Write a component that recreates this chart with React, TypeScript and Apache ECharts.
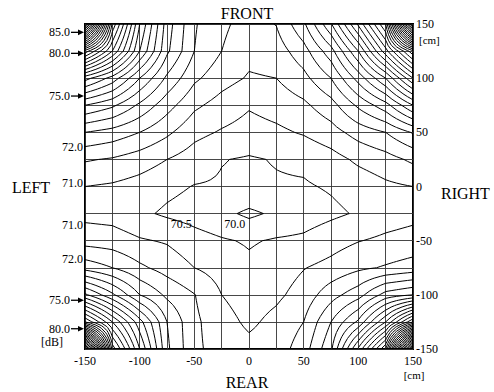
import React, { useEffect, useRef } from 'react';
import * as echarts from 'echarts';

// measurement grid (cm)
const xPositions = [-150, -125, -100, -75, -50, -25, 0, 25, 50, 75, 100, 125, 150];
const yPositions = [150, 125, 100, 75, 50, 25, 0, -25, -50, -75, -100, -125, -150];

// sound pressure level [dB] read at each grid node, rows from FRONT (150) to REAR (-150)
const rowY150 = [88, 79.4, 76.0, 73.75, 72.55, 72.1, 71.8, 72.02, 72.9, 74.45, 76.6, 79.0, 88];
const rowY125 = [80.3, 78.0, 75.5, 73.6, 72.5, 72.0, 71.65, 71.75, 72.3, 73.3, 75.0, 77.3, 79.9];
const rowY100 = [76.2, 75.3, 74.0, 72.9, 72.1, 71.7, 71.45, 71.5, 71.85, 72.5, 73.7, 75.0, 77.0];
const rowY75 = [74.0, 73.6, 72.9, 72.2, 71.6, 71.3, 71.05, 71.2, 71.4, 71.8, 72.6, 73.3, 74.5];
const rowY50 = [72.5, 72.3, 72.0, 71.6, 71.15, 70.95, 70.8, 70.9, 71.05, 71.3, 71.7, 72.0, 72.55];
const rowY25 = [71.55, 71.45, 71.25, 71.0, 70.75, 70.52, 70.45, 70.53, 70.6, 70.8, 71.1, 71.3, 71.6];
const rowY0 = [71.0, 70.93, 70.8, 70.62, 70.48, 70.45, 70.42, 70.45, 70.45, 70.55, 70.7, 70.9, 71.0];
const rowYm25 = [70.85, 70.8, 70.6, 70.42, 70.3, 70.13, 69.9, 70.09, 70.25, 70.4, 70.55, 70.75, 70.85];
const rowYm50 = [71.3, 71.25, 71.05, 70.95, 70.7, 70.55, 70.45, 70.55, 70.6, 70.8, 70.98, 71.1, 71.2];
const rowYm75 = [72.3, 72.0, 71.6, 71.3, 71.0, 70.8, 70.6, 70.75, 70.98, 71.15, 71.4, 71.55, 71.7];
const rowYm100 = [74.6, 73.6, 72.5, 71.9, 71.52, 71.0, 70.75, 70.9, 71.2, 71.8, 72.3, 73.2, 73.5];
const rowYm125 = [78.0, 76.0, 74.2, 72.5, 71.6, 71.2, 70.9, 71.15, 71.5, 72.5, 73.6, 75.5, 78.0];
const rowYm150 = [88, 77.8, 75.0, 72.6, 71.6, 71.3, 71.15, 71.25, 71.75, 72.9, 75.6, 78.5, 88];

const contourLevels = [
  70.0, 70.5, 71.0, 71.5, 72.0, 72.5, 73.0, 73.5, 74.0, 74.5, 75.0, 75.5,
  76.0, 76.5, 77.0, 77.5, 78.0, 78.5, 79.0, 79.5, 80.0, 80.5, 81.0, 81.5,
  82.0, 82.5, 83.0, 83.5, 84.0, 84.5, 85.0, 85.5, 86.0, 86.5, 87.0, 87.5,
];

// level labels on the LEFT side
const leftLabelTexts = ['85.0', '80.0', '75.0', '72.0', '71.0', '71.0', '72.0', '75.0', '80.0'];
const leftLabelYs = [142.3, 122.9, 83.5, 36.7, 3.5, -35.2, -66.6, -105, -131.3];
const leftLabelArrows = [true, true, true, false, false, false, false, true, true];

// labels inside the plot
const innerLabelTexts = ['70.5', '70.0'];
const innerLabelXs = [-62, -13];
const innerLabelYs = [-34.6, -34.6];

const SERIF = 'Liberation Serif';

type P = [number, number];

// bilinear refinement of the measured grid (drawing only), then marching squares
function buildContours(): P[][] {
  const grid = [rowY150, rowY125, rowY100, rowY75, rowY50, rowY25, rowY0, rowYm25, rowYm50, rowYm75, rowYm100, rowYm125, rowYm150];
  const n = 5;
  const nx = (xPositions.length - 1) * n + 1;
  const ny = (yPositions.length - 1) * n + 1;
  const fx: number[] = [];
  const fy: number[] = [];
  for (let i = 0; i < nx; i++) {
    const c = Math.min(Math.floor(i / n), xPositions.length - 2);
    const u = (i - c * n) / n;
    fx.push(xPositions[c] + (xPositions[c + 1] - xPositions[c]) * u);
  }
  for (let j = 0; j < ny; j++) {
    const r = Math.min(Math.floor(j / n), yPositions.length - 2);
    const w = (j - r * n) / n;
    fy.push(yPositions[r] + (yPositions[r + 1] - yPositions[r]) * w);
  }
  const fv: number[][] = [];
  for (let j = 0; j < ny; j++) {
    const r = Math.min(Math.floor(j / n), yPositions.length - 2);
    const w = (j - r * n) / n;
    const row: number[] = [];
    for (let i = 0; i < nx; i++) {
      const c = Math.min(Math.floor(i / n), xPositions.length - 2);
      const u = (i - c * n) / n;
      const a = grid[r][c], b = grid[r][c + 1], d = grid[r + 1][c], e = grid[r + 1][c + 1];
      row.push(a * (1 - u) * (1 - w) + b * u * (1 - w) + d * (1 - u) * w + e * u * w);
    }
    fv.push(row);
  }

  const all: P[][] = [];
  for (const level of contourLevels) {
    const segs: [P, P][] = [];
    const edgePt = (xa: number, ya: number, va: number, xb: number, yb: number, vb: number): P => {
      if (xa > xb || (xa === xb && ya > yb)) {
        [xa, xb] = [xb, xa];
        [ya, yb] = [yb, ya];
        [va, vb] = [vb, va];
      }
      const t = (level - va) / (vb - va);
      return [xa + (xb - xa) * t, ya + (yb - ya) * t];
    };
    for (let r = 0; r < ny - 1; r++) {
      for (let c = 0; c < nx - 1; c++) {
        const x0 = fx[c], x1 = fx[c + 1];
        const y0 = fy[r], y1 = fy[r + 1];
        const v0 = fv[r][c], v1 = fv[r][c + 1], v2 = fv[r + 1][c + 1], v3 = fv[r + 1][c];
        const a = (v: number) => v >= level;
        const pts: (P | null)[] = [null, null, null, null];
        if (a(v0) !== a(v1)) pts[0] = edgePt(x0, y0, v0, x1, y0, v1);
        if (a(v1) !== a(v2)) pts[1] = edgePt(x1, y0, v1, x1, y1, v2);
        if (a(v2) !== a(v3)) pts[2] = edgePt(x1, y1, v2, x0, y1, v3);
        if (a(v3) !== a(v0)) pts[3] = edgePt(x0, y1, v3, x0, y0, v0);
        const found = pts.filter((p) => p !== null) as P[];
        if (found.length === 2) {
          segs.push([found[0], found[1]]);
        } else if (found.length === 4) {
          const center = (v0 + v1 + v2 + v3) / 4;
          if (a(center) === a(v0)) {
            segs.push([pts[0] as P, pts[1] as P]);
            segs.push([pts[2] as P, pts[3] as P]);
          } else {
            segs.push([pts[0] as P, pts[3] as P]);
            segs.push([pts[1] as P, pts[2] as P]);
          }
        }
      }
    }
    const key = (p: P) => p[0].toFixed(4) + ',' + p[1].toFixed(4);
    const map = new Map<string, number[]>();
    segs.forEach((s, i) => {
      for (const p of s) {
        const k = key(p);
        if (!map.has(k)) map.set(k, []);
        map.get(k)!.push(i);
      }
    });
    const used = new Array(segs.length).fill(false);
    for (let i = 0; i < segs.length; i++) {
      if (used[i]) continue;
      used[i] = true;
      let line: P[] = [segs[i][0], segs[i][1]];
      for (let dir = 0; dir < 2; dir++) {
        for (;;) {
          const tail = line[line.length - 1];
          const cands = map.get(key(tail)) || [];
          const j = cands.find((jj) => !used[jj]);
          if (j === undefined) break;
          used[j] = true;
          const s = segs[j];
          line.push(key(s[0]) === key(tail) ? s[1] : s[0]);
        }
        line = line.reverse();
      }
      all.push(line);
    }
  }
  return all;
}

function txt(text: string, x: number, y: number, size: number, align: string) {
  return {
    type: 'text',
    x,
    y,
    style: {
      text,
      font: size + 'px ' + SERIF,
      fontFamily: SERIF,
      fontSize: size,
      fill: '#000',
      textAlign: align,
      textVerticalAlign: 'middle',
      align,
      verticalAlign: 'middle',
    },
  };
}

export default function App() {
  const ref = useRef<HTMLDivElement>(null);
  useEffect(() => {
    document.body.style.margin = '0';
    const chart = echarts.init(ref.current!, undefined, { renderer: 'svg' });
    const polylines = buildContours();

    const axisCommon = {
      type: 'value',
      min: -150,
      max: 150,
      interval: 25,
      axisLine: { show: false },
      axisTick: { show: false },
      splitLine: { show: true, lineStyle: { color: '#333333', width: 0.9 } },
    };

    chart.setOption({
      animation: false,
      backgroundColor: '#ffffff',
      grid: {
        left: 85,
        right: 81,
        top: 24,
        bottom: 43,
        show: true,
        borderColor: '#000',
        borderWidth: 2,
        backgroundColor: 'transparent',
      },
      xAxis: {
        ...axisCommon,
        position: 'bottom',
        axisLabel: {
          margin: 6,
          color: '#000',
          fontFamily: SERIF,
          fontSize: 12,
          formatter: (v: number) => (v % 50 === 0 ? String(v) : ''),
        },
      },
      yAxis: {
        ...axisCommon,
        position: 'right',
        axisLabel: {
          margin: 3,
          color: '#000',
          fontFamily: SERIF,
          fontSize: 12,
          formatter: (v: number) => (v % 50 === 0 ? String(v) : ''),
        },
      },
      graphic: [
        txt('FRONT', 247, 13, 16, 'center'),
        txt('REAR', 247, 382, 16, 'center'),
        txt('LEFT', 31, 187, 16, 'center'),
        txt('RIGHT', 441, 193, 16, 'left'),
        txt('[dB]', 52, 342, 12, 'center'),
        txt('[cm]', 414, 375, 11, 'center'),
        txt('[cm]', 419, 40, 11, 'left'),
      ],
      series: [
        {
          type: 'custom',
          name: 'contours',
          clip: true,
          silent: true,
          data: polylines.map((l) => [l[0][0], l[0][1]]),
          renderItem: (params: any, api: any) => {
            const line = polylines[params.dataIndex];
            const points = line.map((p) => api.coord(p));
            return {
              type: 'polyline',
              shape: { points },
              style: { stroke: '#000', lineWidth: 1, fill: null, lineJoin: 'round' },
            };
          },
        },
        {
          type: 'custom',
          name: 'leftLabels',
          clip: false,
          silent: true,
          data: leftLabelYs.map((y) => [-150, y]),
          renderItem: (params: any, api: any) => {
            const i = params.dataIndex;
            const [px, py] = api.coord([-150, leftLabelYs[i]]);
            const arrow = leftLabelArrows[i];
            const children: any[] = [txt(leftLabelTexts[i], arrow ? px - 15 : px - 2, py, 12, 'right')];
            if (arrow) {
              children.push({
                type: 'line',
                shape: { x1: px - 14, y1: py, x2: px - 5, y2: py },
                style: { stroke: '#000', lineWidth: 1.3 },
              });
              children.push({
                type: 'polygon',
                shape: { points: [[px - 1, py], [px - 7, py - 2.8], [px - 7, py + 2.8]] },
                style: { fill: '#000' },
              });
            }
            return { type: 'group', children };
          },
        },
        {
          type: 'custom',
          name: 'innerLabels',
          clip: false,
          silent: true,
          data: innerLabelXs.map((x, i) => [x, innerLabelYs[i]]),
          renderItem: (params: any, api: any) => {
            const i = params.dataIndex;
            const [px, py] = api.coord([innerLabelXs[i], innerLabelYs[i]]);
            return txt(innerLabelTexts[i], px, py, 12, 'center');
          },
        },
      ],
    });
    return () => chart.dispose();
  }, []);
  return <div ref={ref} style={{ position: 'absolute', left: 0, top: 0, width: 494, height: 392 }} />;
}
